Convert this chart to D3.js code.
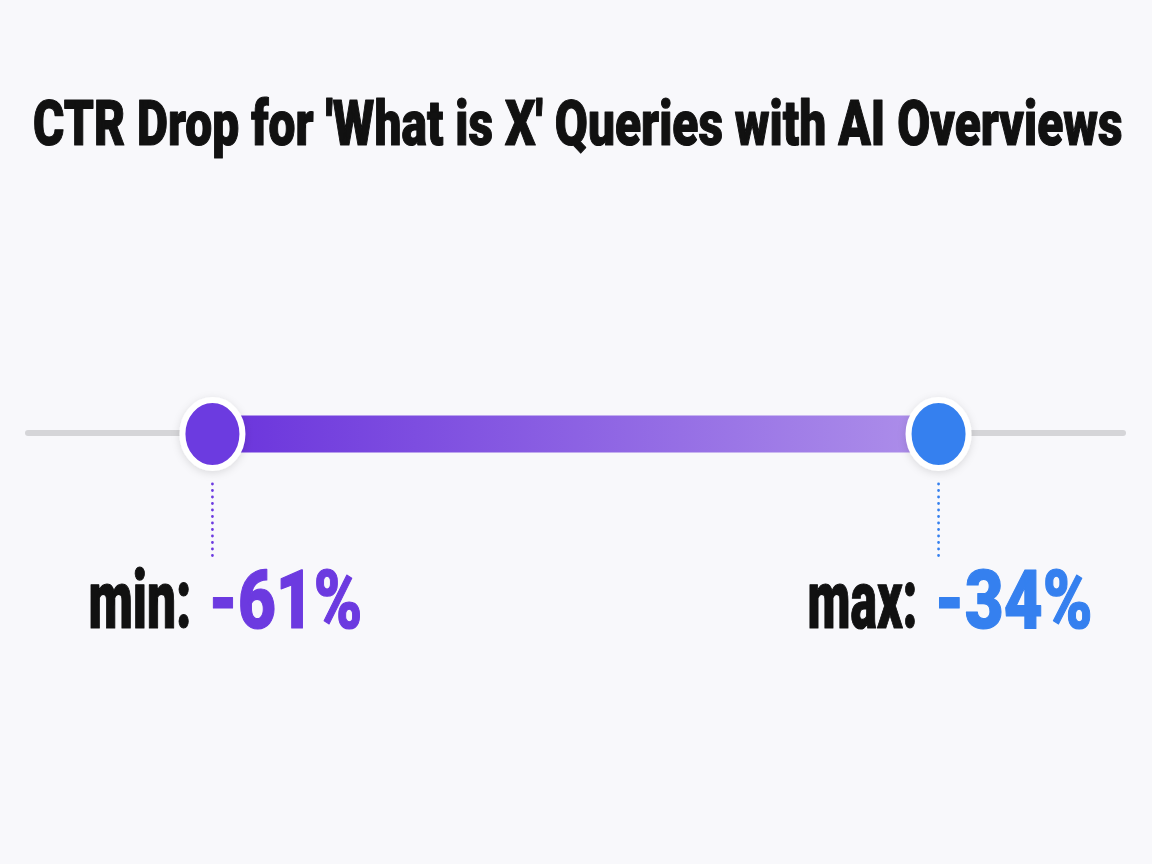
<!DOCTYPE html>
<html>
<head>
<meta charset="utf-8">
<script src="https://cdn.jsdelivr.net/npm/d3@7"></script>
<style>
  html, body { margin: 0; padding: 0; background: #f8f8fb; }
  svg { display: block; }
</style>
</head>
<body>
<svg id="chart" width="1152" height="864"></svg>
<script>
const title = "CTR Drop for 'What is X' Queries with AI Overviews";
const labels = ["min:", "max:"];
const values = [-61, -34];
const colors = ["#6c3ae0", "#3580ef"];

const width = 1152, height = 864;
const svg = d3.select("#chart");
const font = "Roboto, 'Liberation Sans', sans-serif";

svg.append("rect").attr("width", width).attr("height", height).attr("fill", "#f8f8fb");

// domain padded a quarter of the span on each side
const span = d3.max(values) - d3.min(values);
const pad = span * 0.254;
const x = d3.scaleLinear()
    .domain([d3.min(values) - pad, d3.max(values) + pad])
    .range([28, 1123]);
const cy = 434;

const defs = svg.append("defs");
const grad = defs.append("linearGradient").attr("id", "barGrad")
    .attr("x1", "0%").attr("x2", "100%").attr("y1", "0%").attr("y2", "0%");
grad.append("stop").attr("offset", "0%").attr("stop-color", "#6a33dc");
grad.append("stop").attr("offset", "100%").attr("stop-color", "#ae90ea");

const shadow = defs.append("filter").attr("id", "shadow")
    .attr("x", "-50%").attr("y", "-50%").attr("width", "200%").attr("height", "200%");
shadow.append("feDropShadow").attr("dx", 0).attr("dy", 2).attr("stdDeviation", 4)
    .attr("flood-color", "#000").attr("flood-opacity", 0.12);

// the reference uses a heavy condensed face; squeeze a bold one to the same width
function condensed(g, txt, size, fill, left, baseline, w) {
    const t = g.append("text")
        .attr("font-family", font).attr("font-weight", 900)
        .attr("font-size", size).attr("fill", fill)
        .attr("stroke", fill).attr("stroke-width", 1.2)
        .attr("stroke-linejoin", "round")
        .text(txt);
    const natural = t.node().getComputedTextLength();
    t.attr("transform", `translate(${left},${baseline}) scale(${w / natural},1)`);
    return t;
}

// title
condensed(svg, title, 63, "#111", 33, 145, 1090);

// background track
svg.append("line")
    .attr("x1", x.range()[0]).attr("x2", x.range()[1])
    .attr("y1", cy - 1).attr("y2", cy - 1)
    .attr("stroke", "#d5d5d8").attr("stroke-width", 6)
    .attr("stroke-linecap", "round");

// range bar
svg.append("rect")
    .attr("x", x(values[0])).attr("y", cy - 18.5)
    .attr("width", x(values[1]) - x(values[0])).attr("height", 37)
    .attr("fill", "url(#barGrad)");

// dotted leaders
svg.append("g").selectAll("line")
    .data(values).join("line")
    .attr("x1", d => x(d)).attr("x2", d => x(d))
    .attr("y1", 484).attr("y2", 562)
    .attr("stroke", (d, i) => colors[i])
    .attr("stroke-width", 2.8)
    .attr("stroke-linecap", "round")
    .attr("stroke-dasharray", "0 6.5");

// end dots
svg.append("g").selectAll("ellipse")
    .data(values).join("ellipse")
    .attr("cx", d => x(d)).attr("cy", cy)
    .attr("rx", 30).attr("ry", 34)
    .attr("fill", (d, i) => colors[i])
    .attr("stroke", "#fff").attr("stroke-width", 6)
    .attr("filter", "url(#shadow)");

// value labels
const valueW = [154, 158];
const labelW = [103, 110];
const lab = svg.append("g");
values.forEach((d, i) => {
    const vx = x(d) - 4;
    condensed(lab, `${d}%`, 81, colors[i], vx, 628, valueW[i]);
    condensed(lab, labels[i], 81, "#111", vx - 17 - labelW[i], 628, labelW[i]);
});
</script>
</body>
</html>
